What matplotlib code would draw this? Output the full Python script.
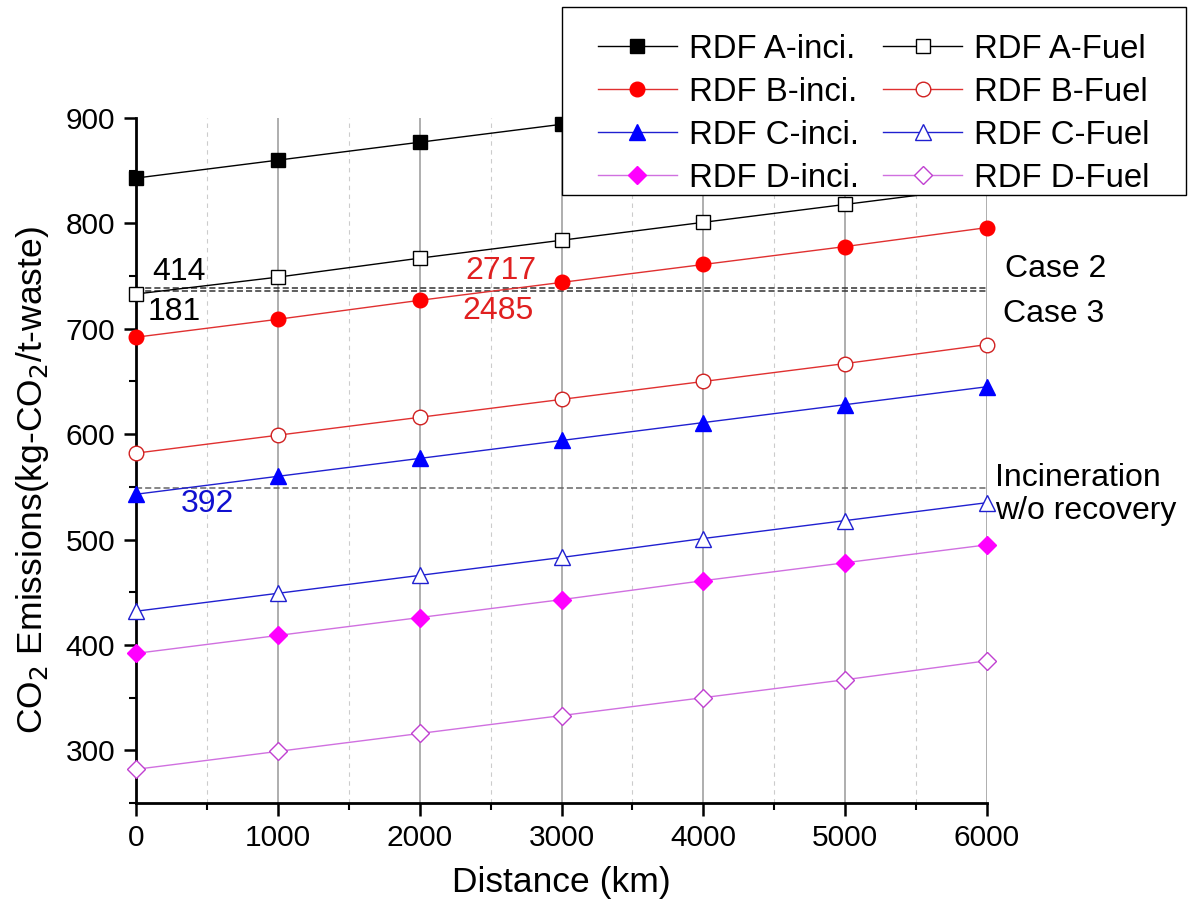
import numpy as np
import matplotlib
matplotlib.use("Agg")
import matplotlib.pyplot as plt
from matplotlib.patches import Rectangle
from matplotlib.ticker import MultipleLocator

plt.rcParams['font.family'] = ['Liberation Sans', 'DejaVu Sans']

distance = [0, 1000, 2000, 3000, 4000, 5000, 6000]

a_inci = [843, 860, 877, 894, 911, 928, 945]
a_fuel = [733, 749, 767, 784, 801, 818, 835]
b_inci = [692, 709, 727, 744, 761, 778, 796]
b_fuel = [582, 599, 616, 633, 650, 667, 685]
c_inci = [543, 560, 577, 594, 611, 628, 645]
c_fuel = [432, 449, 466, 483, 501, 518, 535]
d_inci = [392, 409, 426, 443, 461, 478, 495]
d_fuel = [282, 299, 316, 333, 350, 367, 385]

case2 = 739
case3 = 736
incin = 549

fig = plt.figure(figsize=(11.89, 9.14), dpi=100)
ax = fig.add_axes([0.1144, 0.1214, 0.7157, 0.7495])

# vertical grid
for x in range(0, 6001, 1000):
    ax.axvline(x, color='#999999', lw=1.1, zorder=0)
for x in range(500, 6000, 1000):
    ax.axvline(x, color='#cccccc', lw=0.8, ls=(0, (4, 4)), zorder=0)

# reference lines
ax.plot([0, 6000], [case2, case2], color='#333333', lw=1.1, ls=(0, (4, 2)), zorder=1)
ax.plot([0, 6000], [case3, case3], color='#333333', lw=1.1, ls=(0, (4, 2)), zorder=1)
ax.plot([0, 6000], [incin, incin], color='#666666', lw=1.1, ls=(0, (4, 2)), zorder=1)

series = [
    ('RDF A-inci.', a_inci, 's', 'black', 'black', 'black', 9.5),
    ('RDF B-inci.', b_inci, 'o', '#e03030', 'red', 'red', 10.5),
    ('RDF C-inci.', c_inci, '^', '#2020d0', 'blue', 'blue', 11),
    ('RDF D-inci.', d_inci, 'D', '#d070e0', 'magenta', 'magenta', 9),
    ('RDF A-Fuel', a_fuel, 's', 'black', 'white', 'black', 9.5),
    ('RDF B-Fuel', b_fuel, 'o', '#e03030', 'white', '#d02020', 10.5),
    ('RDF C-Fuel', c_fuel, '^', '#2020d0', 'white', '#2020d0', 11),
    ('RDF D-Fuel', d_fuel, 'D', '#d070e0', 'white', '#c040d0', 9),
]
handles = []
for label, vals, m, lc, fc, ec, ms in series:
    h, = ax.plot(distance, vals, color=lc, lw=1.0, marker=m, ms=ms,
                 mfc=fc, mec=ec, mew=1.0, label=label, clip_on=False, zorder=3)
    handles.append(h)

ax.set_xlim(0, 6000)
ax.set_ylim(250, 900)
ax.xaxis.set_major_locator(MultipleLocator(1000))
ax.xaxis.set_minor_locator(MultipleLocator(500))
ax.yaxis.set_minor_locator(MultipleLocator(50))
ax.set_yticks(range(300, 901, 100))
ax.tick_params(which='major', direction='out', length=9, width=1.8, labelsize=21.5, pad=6)
ax.tick_params(which='minor', direction='out', length=5, width=1.5)
for s in ['top', 'right']:
    ax.spines[s].set_visible(False)
for s in ['left', 'bottom']:
    ax.spines[s].set_linewidth(2)

ax.set_xlabel('Distance (km)', fontsize=25.5, labelpad=10)
ax.set_ylabel('CO$_2$ Emissions(kg-CO$_2$/t-waste)', fontsize=25.5)
ax.yaxis.set_label_coords(-0.100, 0.4715)

# annotations
ax.text(113, 754, '414', fontsize=23, color='black', va='center', ha='left')
ax.text(85, 716, '181', fontsize=23, color='black', va='center', ha='left')
ax.text(2320, 755, '2717', fontsize=23, color='#e02020', va='center', ha='left')
ax.text(2300, 717, '2485', fontsize=23, color='#e02020', va='center', ha='left')
ax.text(317, 534, '392', fontsize=23, color='#1010d0', va='center', ha='left')
ax.text(6127, 757, 'Case 2', fontsize=23, va='center', ha='left')
ax.text(6113, 714, 'Case 3', fontsize=23, va='center', ha='left')
ax.text(6060, 543, 'Incineration\nw/o recovery', fontsize=23, va='center', ha='left',
        linespacing=1.15)

# legend frame drawn separately so the left padding can be wider than the right
W, H = 1189.0, 914.0
box = Rectangle((562 / W, 1 - 195 / H), (1186 - 562) / W, (195 - 7) / H,
                transform=fig.transFigure, facecolor='white', edgecolor='black',
                lw=1.0, zorder=5)
fig.add_artist(box)

leg = fig.legend(handles=handles, loc='upper left', bbox_to_anchor=(598 / W, 1 - 34 / H),
                 ncol=2, fontsize=23.7, frameon=False, handlelength=2.4,
                 columnspacing=0.75, handletextpad=0.35, labelspacing=0.36,
                 borderpad=0.0, borderaxespad=0.0)
leg.set_zorder(10)

fig.savefig('out.png', dpi=100)
